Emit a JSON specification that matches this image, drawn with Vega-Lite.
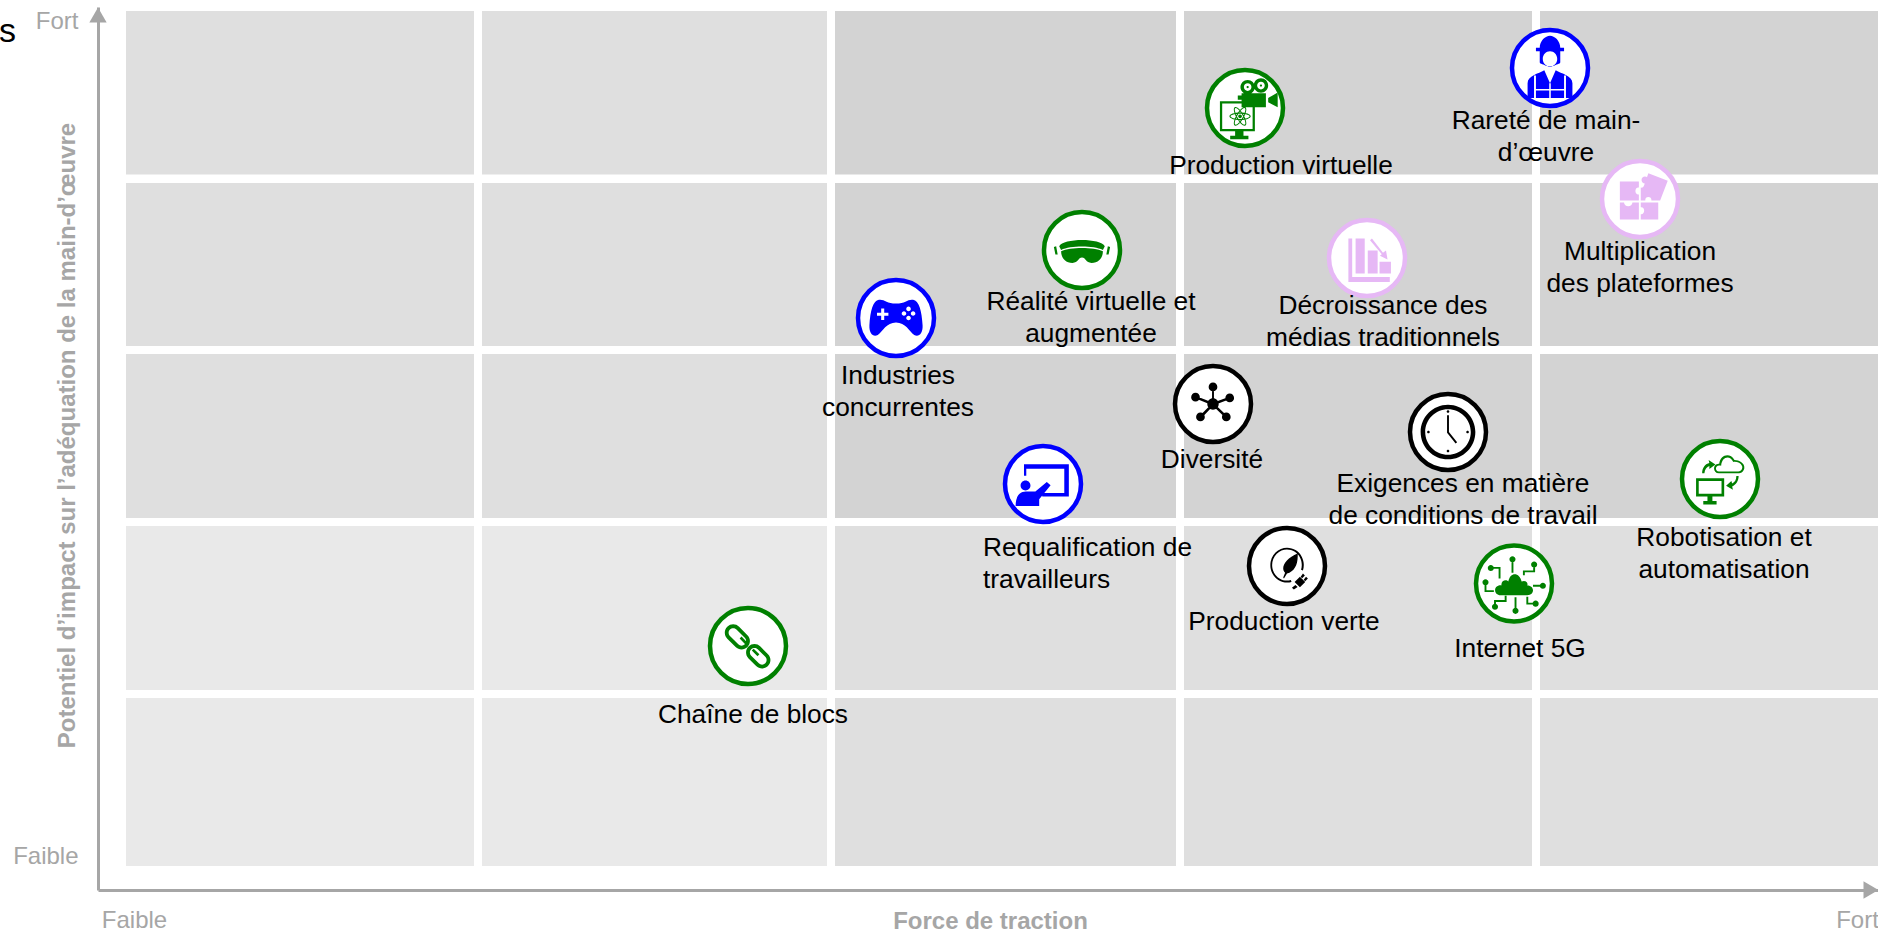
{
"$schema":"https://vega.github.io/schema/vega-lite/v6.json",
"width":1780,"height":883,
"autosize":{"type":"none"},
"padding":{"left":98,"top":7,"right":0,"bottom":43},
"background":"white",
"config":{"view":{"stroke":null},"font":"Liberation Sans"},
"datasets":{
"cellules":[
{"x0":28,"x1":376,"y0":715.5,"y1":879,"niveau":"moyen"},{"x0":384,"x1":729,"y0":715.5,"y1":879,"niveau":"moyen"},{"x0":737,"x1":1078,"y0":715.5,"y1":879,"niveau":"fort"},{"x0":1086,"x1":1434,"y0":715.5,"y1":879,"niveau":"fort"},{"x0":1442,"x1":1780,"y0":715.5,"y1":879,"niveau":"fort"},
{"x0":28,"x1":376,"y0":544,"y1":707,"niveau":"moyen"},{"x0":384,"x1":729,"y0":544,"y1":707,"niveau":"moyen"},{"x0":737,"x1":1078,"y0":544,"y1":707,"niveau":"fort"},{"x0":1086,"x1":1434,"y0":544,"y1":707,"niveau":"fort"},{"x0":1442,"x1":1780,"y0":544,"y1":707,"niveau":"fort"},
{"x0":28,"x1":376,"y0":372,"y1":536,"niveau":"moyen"},{"x0":384,"x1":729,"y0":372,"y1":536,"niveau":"moyen"},{"x0":737,"x1":1078,"y0":372,"y1":536,"niveau":"fort"},{"x0":1086,"x1":1434,"y0":372,"y1":536,"niveau":"fort"},{"x0":1442,"x1":1780,"y0":372,"y1":536,"niveau":"fort"},
{"x0":28,"x1":376,"y0":200,"y1":364,"niveau":"faible"},{"x0":384,"x1":729,"y0":200,"y1":364,"niveau":"faible"},{"x0":737,"x1":1078,"y0":200,"y1":364,"niveau":"moyen"},{"x0":1086,"x1":1434,"y0":200,"y1":364,"niveau":"moyen"},{"x0":1442,"x1":1780,"y0":200,"y1":364,"niveau":"moyen"},
{"x0":28,"x1":376,"y0":24,"y1":192,"niveau":"faible"},{"x0":384,"x1":729,"y0":24,"y1":192,"niveau":"faible"},{"x0":737,"x1":1078,"y0":24,"y1":192,"niveau":"moyen"},{"x0":1086,"x1":1434,"y0":24,"y1":192,"niveau":"moyen"},{"x0":1442,"x1":1780,"y0":24,"y1":192,"niveau":"moyen"}
],
"facteurs":[
{"nom":"Chaîne de blocs","groupe":"vert","icone":"chaine","force":650,"impact":244,"lx":655,"ly":175},
{"nom":"Industries\nconcurrentes","groupe":"bleu","icone":"manette","force":798,"impact":572,"lx":800,"ly":514.5},
{"nom":"Production virtuelle","groupe":"vert","icone":"camera","force":1147,"impact":782,"lx":1183,"ly":724},
{"nom":"Rareté de main-\nd’œuvre","groupe":"bleu","icone":"ouvrier","force":1452,"impact":822,"lx":1448,"ly":769},
{"nom":"Multiplication\ndes plateformes","groupe":"rose","icone":"puzzle","force":1542,"impact":691,"lx":1542,"ly":638},
{"nom":"Réalité virtuelle et\naugmentée","groupe":"vert","icone":"casque","force":984,"impact":640,"lx":993,"ly":588},
{"nom":"Décroissance des\nmédias traditionnels","groupe":"rose","icone":"baisse","force":1269,"impact":632,"lx":1285,"ly":584},
{"nom":"Diversité","groupe":"noir","icone":"reseau","force":1115,"impact":486,"lx":1114,"ly":430},
{"nom":"Exigences en matière\nde conditions de travail","groupe":"noir","icone":"horloge","force":1350,"impact":458,"lx":1365,"ly":406},
{"nom":"Robotisation et\nautomatisation","groupe":"vert","icone":"robot","force":1622,"impact":411,"lx":1626,"ly":352},
{"nom":"Requalification de\ntravailleurs","groupe":"bleu","icone":"formation","force":945,"impact":406,"lx":885,"ly":342},
{"nom":"Production verte","groupe":"noir","icone":"prise","force":1189,"impact":324,"lx":1186,"ly":268},
{"nom":"Internet 5G","groupe":"vert","icone":"nuage","force":1416,"impact":306.5,"lx":1422,"ly":241}
]},
"layer":[
{"data":{"name":"cellules"},
 "mark":{"type":"rect"},
 "encoding":{
  "x":{"field":"x0","type":"quantitative","scale":{"domain":[0,1780],"nice":false,"zero":false},
   "axis":{"title":"Force de traction","titleFontSize":24,"titleFontWeight":"bold","titleColor":"#a6a6a6","titleBaseline":"alphabetic","titleX":892,"titleY":38,
    "values":[36,1759],"labelExpr":"datum.value<100?'Faible':'Fort'","labelFontSize":24,"labelColor":"#a6a6a6","labelPadding":18,"labelBaseline":"top","labelFlush":false,"labelOverlap":false,
    "ticks":false,"grid":false,"domainColor":"#a6a6a6","domainWidth":3,
    "encoding":{"labels":{"update":{"dy":{"signal":"datum.value>1000?5:0"}}}}}},
  "x2":{"field":"x1"},
  "y":{"field":"y0","type":"quantitative","scale":{"domain":[0,883],"nice":false,"zero":false},
   "axis":{"title":"Potentiel d’impact sur l’adéquation de la main-d’œuvre","titleFontSize":24,"titleFontWeight":"bold","titleColor":"#a6a6a6","titleAngle":-90,"titleBaseline":"alphabetic","titleAlign":"center","titleX":-24,"titleY":428,
    "values":[34,869],"labelExpr":"datum.value<100?'Faible':'Fort'","labelFontSize":24,"labelColor":"#a6a6a6","labelPadding":20,"labelAlign":"right","labelBaseline":"middle","labelFlush":false,"labelOverlap":false,
    "ticks":false,"grid":false,"domainColor":"#a6a6a6","domainWidth":3}},
  "y2":{"field":"y1"},
  "color":{"field":"niveau","type":"nominal","legend":null,"scale":{"domain":["faible","moyen","fort"],"range":["#e9e9e9","#dfdfdf","#d3d3d3"]}}
 }},
{"data":{"values":[{"force":0,"impact":875}]},"mark":{"type":"point","shape":"triangle-up","filled":true,"color":"#a6a6a6","opacity":1,"size":300},
 "encoding":{"x":{"field":"force","type":"quantitative"},"y":{"field":"impact","type":"quantitative"}}},
{"data":{"values":[{"force":1773,"impact":0}]},"mark":{"type":"point","shape":"triangle-right","filled":true,"color":"#a6a6a6","opacity":1,"size":300,"clip":false},
 "encoding":{"x":{"field":"force","type":"quantitative"},"y":{"field":"impact","type":"quantitative"}}},
{"data":{"values":[{"force":-99,"impact":848,"txt":"s"}]},"mark":{"type":"text","align":"left","baseline":"alphabetic","fontSize":34,"color":"#000000"},
 "encoding":{"x":{"field":"force","type":"quantitative"},"y":{"field":"impact","type":"quantitative"},"text":{"field":"txt"}}},
{"data":{"name":"facteurs"},"mark":{"type":"circle","fill":"#ffffff","opacity":1,"fillOpacity":1,"strokeWidth":4.5,"size":5776},
 "encoding":{"x":{"field":"force","type":"quantitative"},"y":{"field":"impact","type":"quantitative"},
  "stroke":{"field":"groupe","type":"nominal","legend":null,"scale":{"domain":["bleu","vert","rose","noir"],"range":["#0000ff","#008000","#e6b8f5","#000000"]}}}},
{"data":{"name":"facteurs"},"mark":{"type":"point","filled":true,"opacity":1,"strokeWidth":0,"size":5776},
 "encoding":{"x":{"field":"force","type":"quantitative"},"y":{"field":"impact","type":"quantitative"},
  "fill":{"field":"groupe","type":"nominal","legend":null,"scale":{"domain":["bleu","vert","rose","noir"],"range":["#0000ff","#008000","#e6b8f5","#000000"]}},
  "shape":{"field":"icone","type":"nominal","legend":null,"scale":{
   "domain":["manette","chaine","camera","ouvrier","puzzle","casque","baisse","reseau","horloge","robot","formation","prise","nuage"],
   "range":[
"M-.45,-.48C-.3,-.5 -.25,-.38 0,-.38C.25,-.38 .3,-.5 .45,-.48C.6,-.46 .68,-.2 .7,.2C.71,.4 .6,.52 .48,.45C.35,.35 .25,.12 0,.12C-.25,.12 -.35,.35 -.48,.45C-.6,.52 -.71,.4 -.7,.2C-.68,-.2 -.6,-.46 -.45,-.48ZM-.39,-.25V-.14H-.5V-.06H-.39V.05H-.31V-.06H-.2V-.14H-.31V-.25ZM.27,-.24a.06,.06 0 1,0 .12,0a.06,.06 0 1,0 -.12,0ZM.27,.0a.06,.06 0 1,0 .12,0a.06,.06 0 1,0 -.12,0ZM.15,-.12a.06,.06 0 1,0 .12,0a.06,.06 0 1,0 -.12,0ZM.39,-.12a.06,.06 0 1,0 .12,0a.06,.06 0 1,0 -.12,0Z",
"M-.234,-.506L-.014,-.286A.22,.22 0 0,1 -.326,.026L-.546,-.194A.22,.22 0 0,1 -.234,-.506ZM-.305,-.435A.12,.12 0 0,0 -.475,-.265L-.255,-.045A.12,.12 0 0,0 -.085,-.215ZM.326,.014L.526,.214A.22,.22 0 0,1 .214,.526L.014,.326A.22,.22 0 0,1 .326,.014ZM.255,.085A.12,.12 0 0,0 .085,.255L.285,.455A.12,.12 0 0,0 .455,.285ZM-.22,-.2L-.17,-.25L.02,-.05L-.03,0ZM.1,.12L.15,.07L.3,.22L.25,.27Z",
"M-.66,-.18H.26V.61H-.66ZM-.6,-.12V.55H.2V-.12ZM-.26,.61H-.04V.73H.09V.82H-.39V.73H-.26ZM-.09,-.39H.55V-.02H-.09ZM-.19,-.33H-.09V-.22H-.19ZM.61,-.26L.86,-.41V-.02L.61,-.15ZM-.12,-.55a.19,.19 0 1,1 .38,0a.19,.19 0 1,1 -.38,0ZM-.03,-.55a.1,.1 0 1,0 .2,0a.1,.1 0 1,0 -.2,0ZM.23,-.59a.19,.19 0 1,1 .38,0a.19,.19 0 1,1 -.38,0ZM.32,-.59a.1,.1 0 1,0 .2,0a.1,.1 0 1,0 -.2,0ZM.04,-.55a.03,.03 0 1,1 .06,0a.03,.03 0 1,1 -.06,0ZM.39,-.59a.03,.03 0 1,1 .06,0a.03,.03 0 1,1 -.06,0ZM-.27,-.0225A.28,.1 60 1,1 .01,.4625A.28,.1 60 1,1 -.27,-.0225ZM-.255,.0035A.25,.07 60 1,0 -.005,.4365A.25,.07 60 1,0 -.255,.0035ZM-.27,.4625A.28,.1 -60 1,1 .01,-.0225A.28,.1 -60 1,1 -.27,.4625ZM-.255,.4365A.25,.07 -60 1,0 -.005,.0035A.25,.07 -60 1,0 -.255,.4365ZM-.41,.22A.28,.1 0 1,1 .15,.22A.28,.1 0 1,1 -.41,.22ZM-.38,.22A.25,.07 0 1,0 .12,.22A.25,.07 0 1,0 -.38,.22ZM-.18,.22a.05,.05 0 1,1 .1,0a.05,.05 0 1,1 -.1,0Z",
"M-.37,-.44V-.53H-.27C-.27,-.72 -.12,-.85 0,-.85C.12,-.85 .27,-.72 .27,-.53H.37V-.44ZM-.27,-.44H.27V-.15C.27,-.1 .15,-.1 .1,-.05H-.1C-.15,-.1 -.27,-.1 -.27,-.15ZM-.19,-.24A.19,.2 0 1,0 .19,-.24A.19,.2 0 1,0 -.19,-.24ZM-.59,.79V.4C-.59,.2 -.3,.15 -.15,.06L0,.4L.15,.06C.3,.15 .59,.2 .59,.4V.79ZM-.42,.2V.79H-.37V.2ZM.37,.2V.79H.42V.2ZM-.02,.4V.79H.02V.4ZM-.37,.55V.59H-.02V.55ZM.02,.55V.59H.37V.55Z",
"M-.53,-.46H-.03V-.3C-.15,-.32 -.15,-.1 -.03,-.12V.04H-.53ZM-.53,.09H-.42C-.42,.22 -.2,.22 -.2,.09H-.03V.54H-.53ZM.02,.09H.48V.54H.02V.4C.14,.42 .14,.2 .02,.22ZM.22,-.68L.73,-.48L.53,.04H.3C.32,-.08 .12,-.08 .14,.04H.02V-.3C.12,-.28 .12,-.44 .14,-.45ZM.04,-.5a.09,.09 0 1,1 .18,0a.09,.09 0 1,1 -.18,0Z",
"M-.6,-.1C-.5,-.32 .5,-.32 .6,-.1L.55,0C.3,-.12 -.3,-.12 -.55,0ZM-.55,.03C-.3,-.08 .3,-.08 .55,.03C.55,.2 .45,.34 .25,.34C.1,.34 .1,.2 0,.2C-.1,.2 -.1,.34 -.25,.34C-.45,.34 -.55,.2 -.55,.03ZM-.74,-.08L-.68,-.1L-.64,.12L-.7,.12ZM.74,-.08L.68,-.1L.64,.12L.7,.12Z",
"M-.49,-.51H-.39V.5H.6V.63H-.49ZM-.3,-.51H-.06V.41H-.3ZM.02,-.2H.28V.41H.02ZM.33,.1H.63V.41H.33ZM.08,-.47L.13,-.51L.42,-.14L.5,-.2L.54,.04L.34,-.06L.39,-.1Z",
"M-.15,0a.15,.15 0 1,1 .3,0a.15,.15 0 1,1 -.3,0ZM-.115,-.45a.115,.115 0 1,1 .23,0a.115,.115 0 1,1 -.23,0ZM.325,-.16a.115,.115 0 1,1 .23,0a.115,.115 0 1,1 -.23,0ZM.235,.34a.115,.115 0 1,1 .23,0a.115,.115 0 1,1 -.23,0ZM-.445,.34a.115,.115 0 1,1 .23,0a.115,.115 0 1,1 -.23,0ZM-.575,-.18a.115,.115 0 1,1 .23,0a.115,.115 0 1,1 -.23,0ZM-.025,-.45H.025V0H-.025ZM0,-.03L.43,-.19L.45,-.13L.02,.03ZM-.03,.02L.02,-.02L.38,.32L.33,.37ZM-.02,-.02L.03,.02L-.3,.37L-.36,.32ZM-.45,-.21L0,-.03L-.02,.03L-.47,-.15Z",
"M-.72,0a.72,.72 0 1,1 1.44,0a.72,.72 0 1,1 -1.44,0ZM-.6,0a.6,.6 0 1,0 1.2,0a.6,.6 0 1,0 -1.2,0ZM-.025,-.44H.025V.0L.24,.27L.2,.3L-.025,.02ZM-.035,-.54a.035,.035 0 1,1 .07,0a.035,.035 0 1,1 -.07,0ZM-.035,.5a.035,.035 0 1,1 .07,0a.035,.035 0 1,1 -.07,0ZM-.55,0a.035,.035 0 1,1 .07,0a.035,.035 0 1,1 -.07,0ZM.48,0a.035,.035 0 1,1 .07,0a.035,.035 0 1,1 -.07,0Z",
"M-.63,-.02H.11V.46H-.63ZM-.56,.05V.39H.04V.05ZM-.33,.46H-.2V.58H-.09V.67H-.44V.58H-.33ZM-.03,-.15C-.2,-.15 -.2,-.42 -.02,-.4C0,-.62 .25,-.72 .38,-.5C.5,-.5 .66,-.42 .64,-.28C.62,-.18 .55,-.15 .48,-.15ZM-.03,-.2H.48C.58,-.2 .6,-.3 .58,-.34C.54,-.43 .45,-.46 .35,-.45C.25,-.64 .05,-.58 .03,-.35C-.14,-.4 -.14,-.2 -.03,-.2ZM-.47,-.15C-.47,-.3 -.38,-.4 -.28,-.42L-.3,-.5L-.12,-.38L-.28,-.26L-.28,-.34C-.35,-.32 -.4,-.25 -.41,-.15ZM.43,-.08H.49C.49,.05 .42,.15 .32,.2L.34,.28L.16,.18L.3,.05L.32,.12C.39,.08 .43,.02 .43,-.08Z",
"M-.5,-.52H.68V.33H-.02V.24H.56V-.4H-.44V-.22H-.5ZM-.59,.04a.13,.13 0 1,1 .26,0a.13,.13 0 1,1 -.26,0ZM-.72,.58C-.72,.3 -.6,.2 -.45,.2L-.2,.2L.1,-.05L.2,.03L-.1,.4V.58Z",
"M.12,.42A.44,.46 0 1,1 .42,.12L.37,.1A.39,.41 0 1,0 .1,.37ZM.28,-.33C.3,-.05 .2,.15 0,.2L-.08,.33L-.1,.3L-.05,.18C-.18,.05 -.05,-.2 .28,-.33ZM.2,.42L.34,.28L.48,.42L.34,.56ZM.36,.28L.42,.2L.47,.25L.4,.32ZM.44,.36L.5,.28L.55,.33L.48,.4ZM.22,.5L.28,.55L.18,.62L.13,.57Z",
"M-.35,.31C-.55,.31 -.55,.03 -.33,.05C-.35,-.08 -.2,-.12 -.15,-.05C-.1,-.32 .15,-.3 .2,-.05C.3,-.1 .38,-.02 .35,.05C.55,.05 .55,.31 .35,.31ZM-.065,-.64H-.015V-.28H-.065ZM-.12,-.64a.08,.08 0 1,1 .16,0a.08,.08 0 1,1 -.16,0ZM.015,.36H.065V.72H.015ZM-.04,.72a.08,.08 0 1,1 .16,0a.08,.08 0 1,1 -.16,0ZM.5,.035H.76V.085H.5ZM.68,.06a.08,.08 0 1,1 .16,0a.08,.08 0 1,1 -.16,0ZM-.61,-.435H-.355V-.13H-.405V-.385H-.61ZM-.69,-.41a.08,.08 0 1,1 .16,0a.08,.08 0 1,1 -.16,0ZM-.725,-.03V.175H-.53V.225H-.775V-.03ZM-.83,-.03a.08,.08 0 1,1 .16,0a.08,.08 0 1,1 -.16,0ZM.505,-.5H.555V-.295H.285V-.22H.235V-.345H.505ZM.45,-.5a.08,.08 0 1,1 .16,0a.08,.08 0 1,1 -.16,0ZM-.525,.61V.435H-.245V.32H-.195V.485H-.475V.61ZM-.58,.61a.08,.08 0 1,1 .16,0a.08,.08 0 1,1 -.16,0ZM.325,.35H.375V.505H.57V.555H.325ZM.49,.53a.08,.08 0 1,1 .16,0a.08,.08 0 1,1 -.16,0Z"
]}}}},
{"data":{"name":"facteurs"},"transform":[{"filter":"datum.icone!='formation'"}],"mark":{"type":"text","lineBreak":"\n","lineHeight":32,"fontSize":26.3,"align":"center","baseline":"middle","color":"#000000"},
 "encoding":{"x":{"field":"lx","type":"quantitative"},"y":{"field":"ly","type":"quantitative"},"text":{"field":"nom"}}},
{"data":{"name":"facteurs"},"transform":[{"filter":"datum.icone=='formation'"}],"mark":{"type":"text","lineBreak":"\n","lineHeight":32,"fontSize":26.3,"align":"left","baseline":"middle","color":"#000000"},
 "encoding":{"x":{"field":"lx","type":"quantitative"},"y":{"field":"ly","type":"quantitative"},"text":{"field":"nom"}}}
]
}
